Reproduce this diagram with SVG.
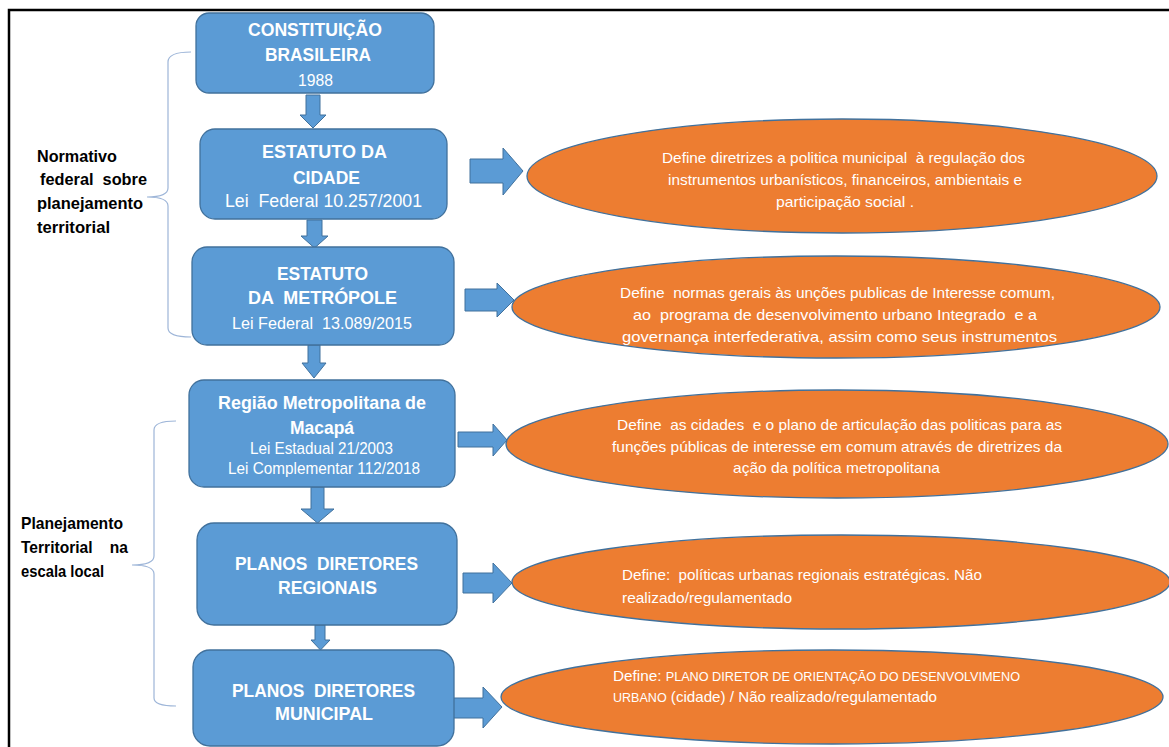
<svg xmlns="http://www.w3.org/2000/svg" width="1169" height="747" viewBox="0 0 1169 747">
<style>
text{white-space:pre}
.box{fill:#5B9BD5;stroke:#41719C;stroke-width:1.3}
.arr{fill:#5B9BD5;stroke:#41719C;stroke-width:1}
.ell{fill:#ED7D31;stroke:#41719C;stroke-width:1.3}
.brk{fill:none;stroke:#9DB5D8;stroke-width:1.2}
.tb{font-family:"Liberation Sans",Arial,sans-serif;font-weight:bold;font-size:19px;fill:#fff;text-anchor:middle}
.tr{font-family:"Liberation Sans",Arial,sans-serif;font-size:17px;fill:#fff;text-anchor:middle}
.et{font-family:"Liberation Sans Narrow","Liberation Sans",Arial,sans-serif;font-size:14.5px;fill:#fff}
.lab{font-family:"Liberation Sans",Arial,sans-serif;font-weight:bold;font-size:16.5px;fill:#000}
</style>
<rect x="0" y="0" width="1169" height="747" fill="#fff"/>
<rect x="9" y="10" width="1175" height="760" fill="none" stroke="#000" stroke-width="2.5"/>

<g id="connectors">
  <polygon class="arr" points="306,95 320,95 320,115 326,115 313,128 300,115 306,115"/>
  <polygon class="arr" points="307,220 322,220 322,236 328,236 314.5,248 301,236 307,236"/>
  <polygon class="arr" points="308,345 320,345 320,363 326,363 314,378 302,363 308,363"/>
  <polygon class="arr" points="311,487 324,487 324,509 334,509 317.5,523 301,509 311,509"/>
  <polygon class="arr" points="315,625 325,625 325,640 330,640 320.5,650 311,640 315,640"/>
  <polygon class="arr" points="470,159 503,159 503,148 523,171 503,195 503,183 470,183"/>
  <polygon class="arr" points="465,289 497,289 497,283 514,300 497,317 497,311 465,311"/>
  <polygon class="arr" points="458,432 493,432 493,424 507,440 493,456 493,447 458,447"/>
  <polygon class="arr" points="463,573 493,573 493,563 512,583 493,603 493,593 463,593"/>
  <polygon class="arr" points="453,698 483,698 483,687 502,707 483,728 483,718 453,718"/>
  <path class="brk" d="M191,52 C175,52 168,55 168,62 L168,188 C168,194 160,197 147,197 C160,197 168,200 168,206 L168,328 C168,334 175,337 191,337"/>
  <path class="brk" d="M176,421 C162,421 154,424 154,430 L154,556 C154,562 145,565 132,565 C145,565 154,568 154,574 L154,698 C154,704 162,706 176,706"/>
</g>

<g id="lbl-normativo">
  <text class="lab" x="37" y="162" textLength="80" lengthAdjust="spacingAndGlyphs">Normativo</text>
  <text class="lab" x="40" y="185" textLength="107" lengthAdjust="spacingAndGlyphs">federal  sobre</text>
  <text class="lab" x="37" y="209" textLength="106" lengthAdjust="spacingAndGlyphs">planejamento</text>
  <text class="lab" x="37" y="233" textLength="73" lengthAdjust="spacingAndGlyphs">territorial</text>
</g>
<g id="lbl-local">
  <text class="lab" x="21" y="529" textLength="102" lengthAdjust="spacingAndGlyphs">Planejamento</text>
  <text class="lab" x="21" y="553" textLength="107" lengthAdjust="spacingAndGlyphs">Territorial    na</text>
  <text class="lab" x="21" y="577" textLength="83" lengthAdjust="spacingAndGlyphs">escala local</text>
</g>

<g id="n-constituicao">
  <rect class="box" x="196" y="13" width="238" height="80" rx="13"/>
  <text class="tb" x="315" y="36" textLength="134" lengthAdjust="spacingAndGlyphs">CONSTITUIÇÃO</text>
  <text class="tb" x="318" y="61" textLength="106" lengthAdjust="spacingAndGlyphs">BRASILEIRA</text>
  <text class="tr" x="315.5" y="86" textLength="35" lengthAdjust="spacingAndGlyphs">1988</text>
</g>
<g id="n-estatuto-cidade">
  <rect class="box" x="200" y="129" width="247" height="90" rx="15"/>
  <text class="tb" x="324.5" y="158" textLength="125" lengthAdjust="spacingAndGlyphs">ESTATUTO DA</text>
  <text class="tb" x="326.5" y="184" textLength="67" lengthAdjust="spacingAndGlyphs">CIDADE</text>
  <text class="tr" x="323.5" y="207" textLength="197" lengthAdjust="spacingAndGlyphs" style="font-size:18.5px">Lei  Federal 10.257/2001</text>
</g>
<g id="n-estatuto-metropole">
  <rect class="box" x="192" y="247" width="262" height="98" rx="15"/>
  <text class="tb" x="322.5" y="280" textLength="91" lengthAdjust="spacingAndGlyphs">ESTATUTO</text>
  <text class="tb" x="322.5" y="304" textLength="149" lengthAdjust="spacingAndGlyphs">DA  METRÓPOLE</text>
  <text class="tr" x="322" y="329" textLength="180" lengthAdjust="spacingAndGlyphs">Lei Federal  13.089/2015</text>
</g>
<g id="n-regiao">
  <rect class="box" x="189" y="380" width="266" height="107" rx="15"/>
  <text class="tb" x="322" y="409" textLength="208" lengthAdjust="spacingAndGlyphs">Região Metropolitana de</text>
  <text class="tb" x="322" y="434" textLength="64" lengthAdjust="spacingAndGlyphs">Macapá</text>
  <text class="tr" x="321.5" y="454" textLength="143" lengthAdjust="spacingAndGlyphs">Lei Estadual 21/2003</text>
  <text class="tr" x="324" y="474" textLength="192" lengthAdjust="spacingAndGlyphs">Lei Complementar 112/2018</text>
</g>
<g id="n-planos-regionais">
  <rect class="box" x="197" y="523" width="260" height="102" rx="17"/>
  <text class="tb" x="326.5" y="570" textLength="183" lengthAdjust="spacingAndGlyphs">PLANOS  DIRETORES</text>
  <text class="tb" x="327.5" y="594" textLength="99" lengthAdjust="spacingAndGlyphs">REGIONAIS</text>
</g>
<g id="n-planos-municipal">
  <rect class="box" x="193" y="650" width="261" height="96" rx="17"/>
  <text class="tb" x="323.5" y="697" textLength="183" lengthAdjust="spacingAndGlyphs">PLANOS  DIRETORES</text>
  <text class="tb" x="324" y="720" textLength="98" lengthAdjust="spacingAndGlyphs">MUNICIPAL</text>
</g>

<g id="e-cidade">
  <ellipse class="ell" cx="842" cy="176" rx="315" ry="57"/>
  <text class="et" x="662" y="163" textLength="363" lengthAdjust="spacingAndGlyphs">Define diretrizes a politica municipal  à regulação dos</text>
  <text class="et" x="668" y="185" textLength="354" lengthAdjust="spacingAndGlyphs">instrumentos urbanísticos, financeiros, ambientais e</text>
  <text class="et" x="776" y="207" textLength="138" lengthAdjust="spacingAndGlyphs">participação social .</text>
</g>
<g id="e-metropole">
  <ellipse class="ell" cx="836" cy="307" rx="324" ry="51"/>
  <text class="et" x="620" y="298" textLength="435" lengthAdjust="spacingAndGlyphs">Define  normas gerais às unções publicas de Interesse comum,</text>
  <text class="et" x="633" y="320" textLength="404" lengthAdjust="spacingAndGlyphs">ao  programa de desenvolvimento urbano Integrado  e a</text>
  <text class="et" x="622" y="342" textLength="435" lengthAdjust="spacingAndGlyphs">governança interfederativa, assim como seus instrumentos</text>
</g>
<g id="e-regiao">
  <ellipse class="ell" cx="837" cy="444" rx="331" ry="54"/>
  <text class="et" x="617" y="430" textLength="445" lengthAdjust="spacingAndGlyphs">Define  as cidades  e o plano de articulação das politicas para as</text>
  <text class="et" x="612" y="452" textLength="450" lengthAdjust="spacingAndGlyphs">funções públicas de interesse em comum através de diretrizes da</text>
  <text class="et" x="733" y="473" textLength="207" lengthAdjust="spacingAndGlyphs">ação da política metropolitana</text>
</g>
<g id="e-regionais">
  <ellipse class="ell" cx="841" cy="582" rx="329" ry="47"/>
  <text class="et" x="622" y="580" textLength="360" lengthAdjust="spacingAndGlyphs">Define:  políticas urbanas regionais estratégicas. Não</text>
  <text class="et" x="622" y="603" textLength="170" lengthAdjust="spacingAndGlyphs">realizado/regulamentado</text>
</g>
<g id="e-municipal">
  <ellipse class="ell" cx="832" cy="697" rx="331" ry="47"/>
  <text class="et" x="613" y="681" textLength="407" lengthAdjust="spacingAndGlyphs">Define: <tspan style="font-size:12px">PLANO DIRETOR DE ORIENTAÇÃO DO DESENVOLVIMENO</tspan></text>
  <text class="et" x="613" y="702" textLength="324" lengthAdjust="spacingAndGlyphs"><tspan style="font-size:12px">URBANO</tspan> (cidade) / Não realizado/regulamentado</text>
</g>
</svg>
